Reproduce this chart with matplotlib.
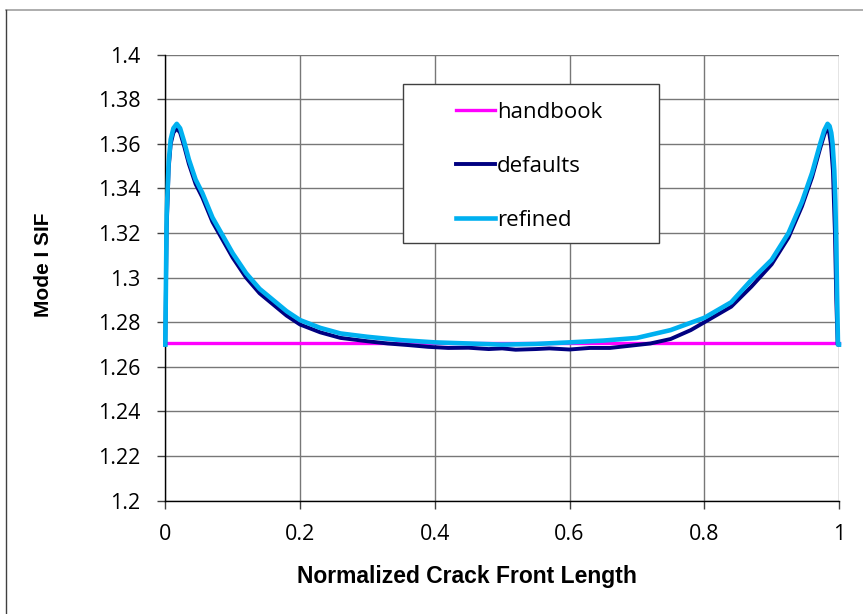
import matplotlib
matplotlib.use('Agg')
import matplotlib.pyplot as plt
from matplotlib.patches import Rectangle
from matplotlib.lines import Line2D

# handbook value (flat)
x_handbook = [0.0, 1.0]
y_handbook = [1.2707, 1.2707]

# defaults mesh
x_defaults = [0, 0.002, 0.005, 0.008, 0.012, 0.017, 0.022, 0.028, 0.035, 0.045, 0.055, 0.07,
              0.085, 0.1, 0.12, 0.14, 0.16, 0.18, 0.2, 0.23, 0.26, 0.3,
              0.33, 0.36, 0.39, 0.42, 0.45, 0.48, 0.5, 0.52, 0.55, 0.57,
              0.6, 0.63, 0.66, 0.69, 0.72, 0.75, 0.78, 0.8, 0.82, 0.84, 0.87,
              0.9, 0.925, 0.945, 0.96, 0.972, 0.978, 0.982, 0.985, 0.988, 0.991, 0.994, 0.996,
              0.998, 1.0]
y_defaults = [1.270, 1.322, 1.349, 1.360, 1.365, 1.367, 1.365, 1.359, 1.351, 1.342, 1.336, 1.325,
              1.317, 1.309, 1.300, 1.293, 1.288, 1.283, 1.279, 1.2755, 1.273, 1.2715,
              1.2705, 1.2698, 1.269, 1.2685, 1.2686, 1.268, 1.2683, 1.2677, 1.268, 1.2683,
              1.2678, 1.2685, 1.2685, 1.2695, 1.2705, 1.2725, 1.2765, 1.280, 1.2835, 1.287, 1.296,
              1.306, 1.318, 1.332, 1.345, 1.358, 1.364, 1.367, 1.366, 1.360, 1.348, 1.320, 1.290,
              1.270, 1.270]

# refined mesh
x_refined = [0, 0.002, 0.005, 0.008, 0.012, 0.017, 0.022, 0.028, 0.035, 0.045, 0.055, 0.07,
             0.085, 0.1, 0.12, 0.14, 0.16, 0.18, 0.2, 0.23, 0.26, 0.3,
             0.35, 0.4, 0.45, 0.5, 0.55, 0.6, 0.65, 0.7, 0.75, 0.8,
             0.82, 0.84, 0.87, 0.9, 0.925, 0.945, 0.96, 0.972, 0.978, 0.983, 0.986, 0.9885,
             0.9905, 0.993, 0.9945, 0.996, 0.997, 0.9985, 1.0]
y_refined = [1.270, 1.328, 1.352, 1.362, 1.367, 1.369, 1.367, 1.361, 1.353, 1.344, 1.338, 1.327,
             1.319, 1.311, 1.302, 1.295, 1.290, 1.285, 1.281, 1.2775, 1.275, 1.2735,
             1.272, 1.271, 1.2705, 1.270, 1.2703, 1.271, 1.2718, 1.273, 1.2765, 1.282,
             1.2855, 1.289, 1.299, 1.308, 1.320, 1.334, 1.347, 1.360, 1.366, 1.369, 1.368, 1.365,
             1.360, 1.348, 1.335, 1.315, 1.295, 1.270, 1.270]

x_ticks = [0, 0.2, 0.4, 0.6, 0.8, 1]
x_ticklabels = ['0', '0.2', '0.4', '0.6', '0.8', '1']
y_ticks = [1.2, 1.22, 1.24, 1.26, 1.28, 1.3, 1.32, 1.34, 1.36, 1.38, 1.4]
y_ticklabels = ['1.2', '1.22', '1.24', '1.26', '1.28', '1.3', '1.32', '1.34', '1.36', '1.38', '1.4']

W, H = 863, 614
fig = plt.figure(figsize=(W / 100, H / 100), dpi=100)
ax = fig.add_axes([165.3 / W, 1 - 500.7 / H, 673.7 / W, 446 / H])

# outer chart border (only top and left visible in crop)
fig.add_artist(Line2D([6 / W, 1], [1 - 9.5 / H, 1 - 9.5 / H], color='#a0a0a0', lw=1.2, transform=fig.transFigure))
fig.add_artist(Line2D([6 / W, 6 / W], [0, 1 - 9.5 / H], color='#404040', lw=1.0, transform=fig.transFigure))

ax.plot(x_handbook, y_handbook, color='#FF00FF', lw=2.4, label='handbook', clip_on=False, zorder=3)
ax.plot(x_defaults, y_defaults, color='#000080', lw=2.8, label='defaults', clip_on=False, zorder=3.1,
        solid_joinstyle='round')
ax.plot(x_refined, y_refined, color='#00B0F0', lw=3.3, label='refined', clip_on=False, zorder=3.2,
        solid_joinstyle='round')

ax.set_xlim(0, 1)
ax.set_ylim(1.2, 1.4)
ax.set_xticks(x_ticks)
ax.set_xticklabels(x_ticklabels)
ax.set_yticks(y_ticks)
ax.set_yticklabels(y_ticklabels)
ax.grid(True, color='#777777', lw=1.0)
ax.set_axisbelow(True)

for s in ['top', 'right']:
    ax.spines[s].set_visible(False)
for s in ['left', 'bottom']:
    ax.spines[s].set_color('black')
    ax.spines[s].set_linewidth(1.0)

ax.tick_params(axis='both', direction='out', length=5.5, width=1.0, color='#404040')
ax.tick_params(axis='x', pad=11)
ax.tick_params(axis='y', pad=12.5)
for lab in ax.get_xticklabels() + ax.get_yticklabels():
    lab.set_fontfamily('Open Sans')
    lab.set_fontsize(15.5)

fig.text(467 / W, 1 - 577 / H, 'Normalized Crack Front Length', ha='center', va='center',
         fontsize=16.5, fontweight='bold', family='Liberation Sans')
fig.text(43.5 / W, 1 - 265 / H, 'Mode I SIF', ha='center', va='center', rotation=90,
         fontsize=15, fontweight='bold', family='Liberation Sans')

# legend box
box = Rectangle((0.3524, 0.577), 0.381, 0.3565, transform=ax.transAxes, facecolor='white',
                edgecolor='#404040', lw=1.0, zorder=4)
ax.add_patch(box)
leg = ax.legend(loc='center left', bbox_to_anchor=(0.4315, 0.7495), frameon=False,
                borderpad=0, borderaxespad=0, handlelength=1.75, handletextpad=0.1,
                labelspacing=1.47, prop={'family': 'Open Sans', 'size': 16})
leg.set_zorder(5)

fig.savefig('out.png', dpi=100)
